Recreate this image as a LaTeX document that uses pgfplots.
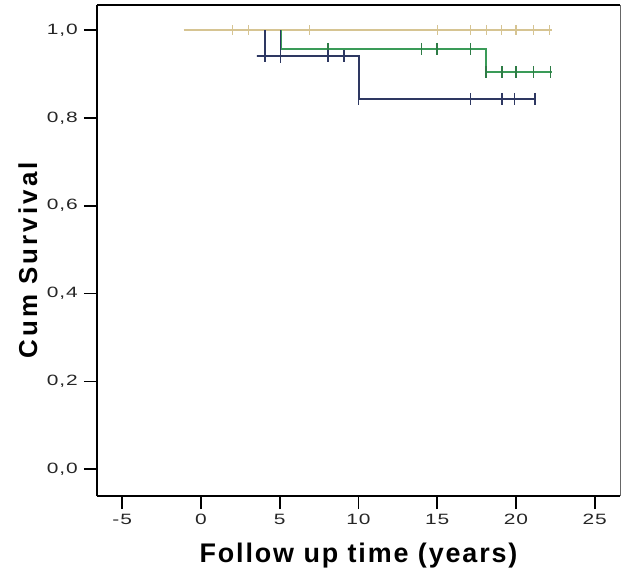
\documentclass[border=0pt]{standalone}
\usepackage{fontspec}
\setmainfont{Liberation Sans}
\newfontfamily\tickfont[LetterSpace=4]{Liberation Sans}
\newfontfamily\xlabfont[LetterSpace=7]{Liberation Sans}
\newfontfamily\ylabfont[LetterSpace=12]{Liberation Sans}
\usepackage{pgfplots}
\pgfplotsset{compat=1.18}

\definecolor{tanline}{RGB}{214,196,146}
\definecolor{greenline}{RGB}{58,155,88}
\definecolor{blueline}{RGB}{46,56,98}

\begin{document}
\begin{tikzpicture}[x=1bp,y=1bp]
\begin{axis}[
    scale only axis,
    width=523bp,
    height=491bp,
    xmin=-6.6, xmax=26.6,
    ymin=-0.061, ymax=1.057,
    axis x line*=bottom,
    axis y line*=left,
    axis line style={line width=2.6bp, black},
    xtick={-5,0,5,10,15,20,25},
    xticklabels={-5,0,5,10,15,20,25},
    ytick={0,0.2,0.4,0.6,0.8,1.0},
    yticklabels={{0,0},{0,2},{0,4},{0,6},{0,8},{1,0}},
    tick align=outside,
    major tick length=13bp,
    tick style={line width=1.6bp, black},
    ticklabel style={font=\tickfont\fontsize{15}{17}\selectfont, text=black!85, xscale=1.4},
    xticklabel style={yshift=-2bp},
    yticklabel style={xshift=-1bp},
    xlabel={\bfseries Follow up time (years)},
    ylabel={\bfseries Cum Survival},
    xlabel style={font=\xlabfont\fontsize{27}{30}\selectfont,
                  at={(axis description cs:0.5,-0.122)}, anchor=center},
    ylabel style={font=\ylabfont\fontsize{26}{30}\selectfont,
                  at={(axis description cs:-0.132,0.48)}, anchor=center},
    clip=false,
]
% tan group (no events)
\addplot[tanline, line width=1.5bp] coordinates {(-1.1,1.0) (22.3,1.0)};
\addplot[tanline, only marks, mark=|, mark size=5bp, mark options={line width=1.2bp}]
  coordinates {(2,1) (3,1) (6.9,1) (15,1) (17.1,1) (18.1,1) (19.1,1) (20,1) (21.1,1) (22.1,1)};

% green group
\addplot[greenline, line width=2bp] coordinates {
  (5.05,1.0) (5.05,0.957) (18.1,0.957) (18.1,0.904) (22.3,0.904)};
\addplot[greenline!80!black, only marks, mark=|, mark size=6bp, mark options={line width=1.6bp}]
  coordinates {(8.05,0.957) (14.0,0.957) (15.0,0.957) (17.1,0.957)
               (18.1,0.904) (19.1,0.904) (20.0,0.904) (21.1,0.904) (22.2,0.904)};

% blue group
\addplot[blueline, line width=2bp] coordinates {
  (4.06,1.0) (4.06,0.94) (3.55,0.94) (10.0,0.94) (10.0,0.843) (21.2,0.843)};
\addplot[blueline, only marks, mark=|, mark size=6bp, mark options={line width=1.6bp}]
  coordinates {(4.06,0.94) (5.05,0.94) (8.05,0.94) (9.07,0.94)
               (10.0,0.843) (17.1,0.843) (19.1,0.843) (19.9,0.843) (21.2,0.843)};
\addplot[blueline, line width=1.6bp] coordinates {(5.05,1.0) (5.05,0.925)};

% top and right frame
\draw[line width=2.6bp, black] (rel axis cs:0,1) -- (rel axis cs:1,1);
\draw[line width=0.8bp, black!60] (rel axis cs:1,0) -- (rel axis cs:1,1);
\coordinate (SW) at (rel axis cs:0,0);
\coordinate (NE) at (rel axis cs:1,1);
\end{axis}
\pgfresetboundingbox
\path ([shift={(-97bp,-83bp)}]SW) rectangle ([shift={(1bp,5bp)}]NE);
\end{tikzpicture}
\end{document}
